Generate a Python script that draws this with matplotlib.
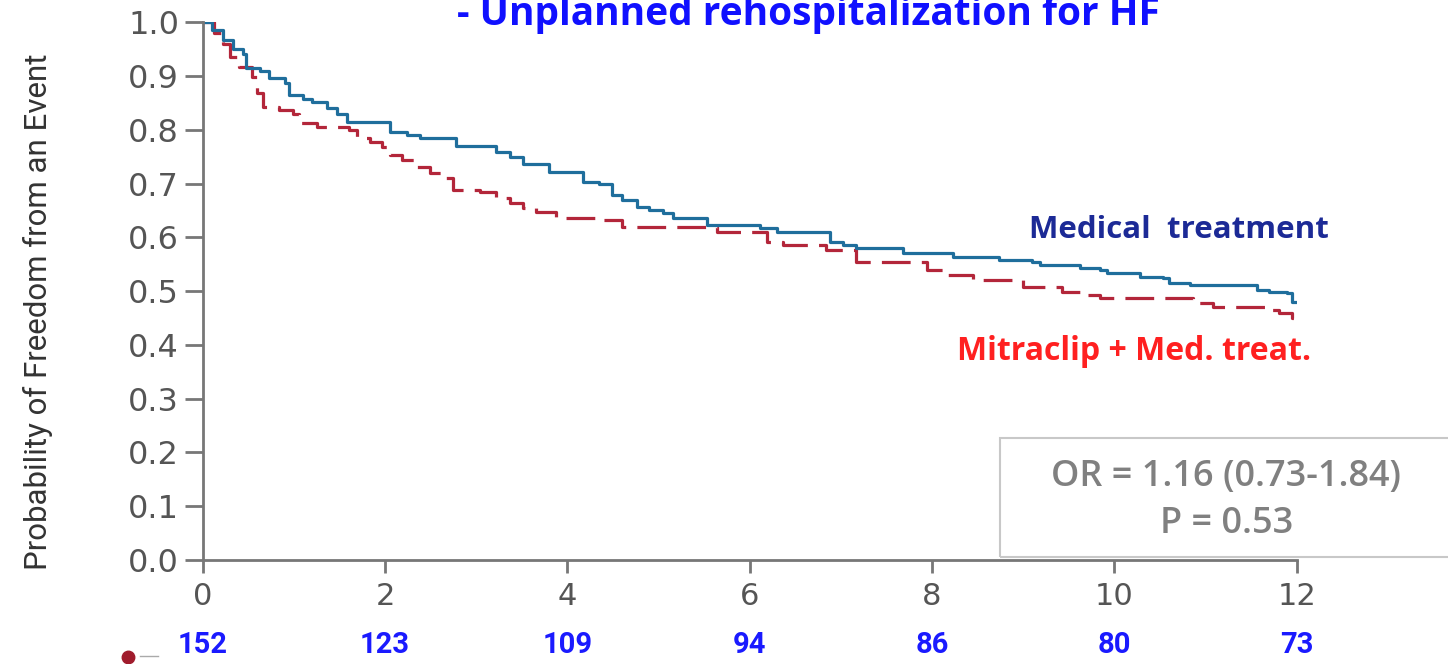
import numpy as np
import matplotlib
matplotlib.use("Agg")
import matplotlib.pyplot as plt
from matplotlib.patches import Rectangle
from matplotlib.lines import Line2D

# Kaplan-Meier steps (months, survival)
med_t = [0, 0.10, 0.22, 0.33, 0.44, 0.48, 0.63, 0.73, 0.90, 0.95, 1.10, 1.20,
         1.36, 1.47, 1.58, 2.05, 2.24, 2.38, 2.78, 3.22, 3.37, 3.51, 3.80, 4.17,
         4.35, 4.49, 4.60, 4.76, 4.90, 5.05, 5.16, 5.53, 6.11, 6.30, 6.88, 7.02,
         7.17, 7.68, 8.23, 8.74, 9.10, 9.18, 9.62, 9.84, 9.92, 10.28, 10.53, 10.60,
         10.83, 11.56, 11.70, 11.89, 11.95, 12.0]
med_s = [1.0, 0.985, 0.967, 0.95, 0.94, 0.915, 0.91, 0.896, 0.886, 0.864, 0.858, 0.851,
         0.84, 0.83, 0.814, 0.795, 0.79, 0.784, 0.77, 0.758, 0.749, 0.736, 0.721, 0.703,
         0.70, 0.678, 0.669, 0.656, 0.65, 0.645, 0.636, 0.623, 0.617, 0.61, 0.591, 0.585,
         0.58, 0.57, 0.563, 0.558, 0.554, 0.548, 0.543, 0.539, 0.533, 0.526, 0.524, 0.515,
         0.511, 0.502, 0.498, 0.496, 0.48, 0.48]

mc_t = [0, 0.12, 0.22, 0.30, 0.40, 0.54, 0.59, 0.66, 0.84, 0.99, 1.06, 1.25,
        1.61, 1.69, 1.83, 1.97, 2.05, 2.19, 2.35, 2.49, 2.63, 2.74, 3.04, 3.22,
        3.37, 3.51, 3.66, 3.88, 4.32, 4.60, 5.64, 6.19, 6.36, 6.84, 7.17, 7.94,
        8.12, 8.45, 9.00, 9.43, 9.70, 9.84, 10.86, 11.08, 11.67, 11.81, 11.95, 12.0]
mc_s = [1.0, 0.98, 0.96, 0.935, 0.916, 0.898, 0.868, 0.842, 0.836, 0.83, 0.812, 0.805,
        0.80, 0.784, 0.777, 0.768, 0.753, 0.743, 0.73, 0.719, 0.71, 0.688, 0.684, 0.673,
        0.664, 0.654, 0.647, 0.636, 0.632, 0.619, 0.61, 0.591, 0.585, 0.576, 0.554, 0.539,
        0.53, 0.52, 0.508, 0.498, 0.493, 0.487, 0.477, 0.47, 0.465, 0.459, 0.45, 0.45]

risk_months = [0, 2, 4, 6, 8, 10, 12]
at_risk = [152, 123, 109, 94, 86, 80, 73]

x_ticks = [0, 2, 4, 6, 8, 10, 12]
y_ticks = [0.0, 0.1, 0.2, 0.3, 0.4, 0.5, 0.6, 0.7, 0.8, 0.9, 1.0]

SANS = ["Open Sans", "DejaVu Sans"]
NARROW = ["Roboto", "DejaVu Sans"]

fig = plt.figure(figsize=(14.48, 6.64), dpi=100)
ax = fig.add_axes([0.140, 0.1566, 0.7555, 0.810])

ax.step(med_t, med_s, where="post", color="#1f6e9c", lw=2.3, zorder=3)
ax.step(mc_t, mc_s, where="post", color="#b3263a", lw=2.3, dashes=(9, 3.5), zorder=2)

ax.set_xlim(0, 12)
ax.set_ylim(0, 1.0)
ax.set_xticks(x_ticks)
ax.set_yticks(y_ticks)
ax.set_xticklabels([str(v) for v in x_ticks])
ax.set_yticklabels([f"{v:.1f}" for v in y_ticks])
for s in ["top", "right"]:
    ax.spines[s].set_visible(False)
for s in ["left", "bottom"]:
    ax.spines[s].set_color("#777777")
    ax.spines[s].set_linewidth(2.0)
ax.spines["left"].set_zorder(4)
ax.tick_params(axis="y", length=13, width=2.0, color="#777777", labelsize=23,
               labelcolor="#555555", pad=4)
ax.tick_params(axis="x", length=9, width=2.0, color="#777777", labelsize=22,
               labelcolor="#555555", pad=7)

fig.text(0.026, 0.530, "Probability of Freedom from an Event", rotation=90,
         ha="center", va="center", fontsize=22.5, color="#333333", family=NARROW)

# title is partly cut off at the top edge, as in the source picture
fig.text(0.558, 0.962, "- Unplanned rehospitalization for HF", ha="center",
         va="baseline", fontsize=28, fontweight="bold", color="#1010ff", family=SANS)

fig.text(0.814, 0.654, "Medical  treatment", ha="center", va="center",
         fontsize=22.5, fontweight="bold", color="#1c2a96", family=SANS)
fig.text(0.783, 0.470, "Mitraclip + Med. treat.", ha="center", va="center",
         fontsize=23, fontweight="bold", color="#ff2020", family=SANS)

# OR / P box
fig.patches.append(Rectangle((1000 / 1448, (664 - 557) / 664), 0.35, 119 / 664,
                             transform=fig.transFigure, fill=False,
                             edgecolor="#c8c8c8", lw=1.5, zorder=1))
fig.text(0.847, 0.2816, "OR = 1.16 (0.73-1.84)", ha="center", va="center",
         fontsize=26, color="#808080", family=SANS, fontweight="semibold")
fig.text(0.847, 0.211, "P = 0.53", ha="center", va="center",
         fontsize=26, color="#808080", family=SANS, fontweight="semibold")

# numbers at risk
for m, n in zip(risk_months, at_risk):
    xf = fig.transFigure.inverted().transform(ax.transData.transform((m, 0)))[0]
    fig.text(xf, 0.029, str(n), ha="center", va="center", fontsize=21,
             fontweight="bold", color="#1a1aff", family=NARROW)

fig.lines.append(Line2D([140 / 1448, 158 / 1448], [0.012, 0.012],
                        transform=fig.transFigure, color="#aaaaaa", lw=1))
fig.lines.append(Line2D([128 / 1448], [0.011], transform=fig.transFigure,
                        marker="o", ms=9, color="#a01c2c", lw=0))

fig.savefig("out.png", dpi=100)
